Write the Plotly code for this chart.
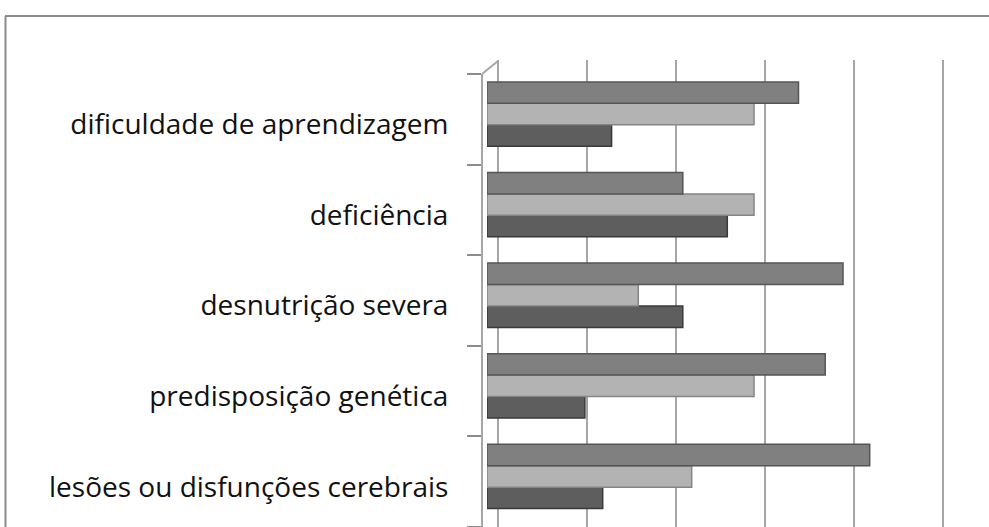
import plotly.graph_objects as go

W, H = 989, 527

# categories listed bottom -> top (Excel order)
categories = [
    "lesões ou disfunções cerebrais",
    "predisposição genética",
    "desnutrição severa",
    "deficiência",
    "dificuldade de aprendizagem",
]
series_names = ["Série 1", "Série 2", "Série 3"]
series_1 = [13, 11, 22, 27, 14]   # dark (bottom of each group)
series_2 = [23, 30, 17, 30, 30]   # light (middle)
series_3 = [43, 38, 40, 22, 35]   # medium (top)
series_values = [series_1, series_2, series_3]
colors = ["#5e5e5e", "#b3b3b3", "#808080"]
edge_colors = ["#3a3a3a", "#858585", "#555555"]

def px(x):
    return x / W

def py(y):
    return 1 - y / H

fig = go.Figure()

# gridline back-plane subplot (drawn first, behind)
fig.add_trace(go.Scatter(x=[None], y=[None], xaxis="x", yaxis="y",
                         showlegend=False, hoverinfo="skip"))

for name, vals, c, ec in zip(series_names, series_values, colors, edge_colors):
    fig.add_trace(go.Bar(
        y=categories, x=vals, orientation="h", name=name,
        xaxis="x2", yaxis="y2",
        marker=dict(color=c, line=dict(color=ec, width=1.5)),
        showlegend=False, hoverinfo="skip",
    ))

# label axis trace
fig.add_trace(go.Scatter(x=[None], y=[None], xaxis="x2", yaxis="y3",
                         showlegend=False, hoverinfo="skip"))

unit = 445 / 50.0  # pixels per value unit
fig.update_layout(
    width=W, height=H,
    margin=dict(l=0, r=0, t=0, b=0),
    paper_bgcolor="white", plot_bgcolor="rgba(0,0,0,0)",
    barmode="group", bargap=0.29, bargroupgap=0.0,
    xaxis=dict(domain=[px(498 - unit), px(943 + unit)], range=[-1, 51],
               tickmode="array", tickvals=[0, 10, 20, 30, 40, 50],
               showgrid=True, gridcolor="#a6a6a6", gridwidth=2,
               zeroline=False, showticklabels=False, ticks="", showline=False,
               anchor="y", fixedrange=True),
    yaxis=dict(domain=[0, py(60)], range=[0, 1], visible=False, anchor="x",
               fixedrange=True),
    xaxis2=dict(domain=[px(487), px(932)], range=[0, 50], visible=False,
                anchor="y2", fixedrange=True),
    yaxis2=dict(domain=[0, py(74)], type="category",
                categoryorder="array", categoryarray=categories,
                range=[-0.558, 4.442], visible=False, anchor="x2",
                fixedrange=True),
    yaxis3=dict(overlaying="y2", anchor="free", position=px(482),
                range=[-0.5, 4.5], tickmode="array",
                tickvals=list(range(len(categories))), ticktext=categories,
                ticks="", ticklabelstandoff=27, ticklabelshift=5,
                showline=True, linecolor="#a6a6a6", linewidth=2,
                showgrid=False, zeroline=False,
                minor=dict(tickmode="array",
                           tickvals=[i - 0.5 for i in range(len(categories) + 1)],
                           ticks="outside", ticklen=14, tickwidth=2,
                           tickcolor="#8c8c8c", showgrid=False),
                tickfont=dict(family="Open Sans, Lato, sans-serif", size=28,
                              color="#111111"),
                fixedrange=True),
    shapes=[
        dict(type="line", xref="paper", yref="paper",
             x0=px(482), y0=py(74), x1=px(498), y1=py(61),
             line=dict(color="#a6a6a6", width=2)),
        dict(type="line", xref="paper", yref="paper",
             x0=px(5), y0=py(16), x1=px(995), y1=py(16),
             line=dict(color="#8c8c8c", width=2)),
        dict(type="line", xref="paper", yref="paper",
             x0=px(5.5), y0=py(16), x1=px(5.5), y1=py(535),
             line=dict(color="#8c8c8c", width=2)),
    ],
)

fig.write_html(
    "out.html",
    config={"displayModeBar": False, "staticPlot": True},
    post_script="document.body.style.margin='0';document.body.style.overflow='hidden';",
)
